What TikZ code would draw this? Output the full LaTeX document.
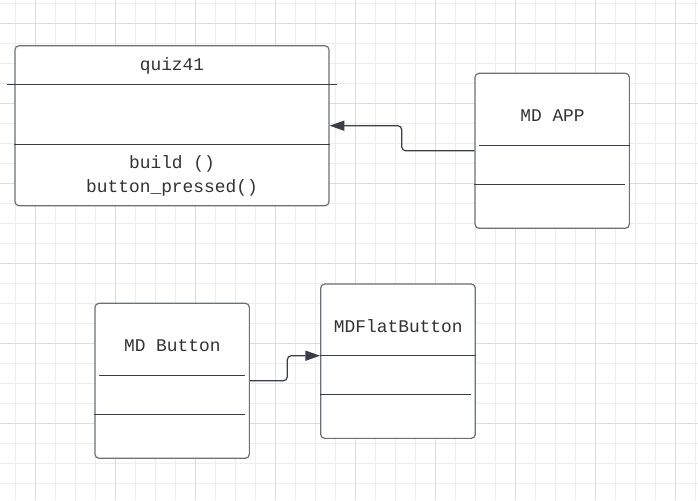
\documentclass[tikz,border=0pt]{standalone}
\usepackage{fontspec}
\setmonofont{Liberation Mono}
\usetikzlibrary{arrows.meta}
\definecolor{gridminor}{HTML}{EDEDED}
\definecolor{gridmajor}{HTML}{DCDCDC}
\definecolor{boxline}{HTML}{6B6F76}
\definecolor{sepline}{HTML}{3A3F47}
\definecolor{txt}{HTML}{333333}
\tikzset{
  classbox/.style={draw=boxline, line width=0.9pt, rounded corners=3pt, inner sep=0pt, fill=white},
  sep/.style={draw=sepline, line width=0.75pt},
  lbl/.style={font=\ttfamily\fontsize{13.4}{16}\selectfont, text=txt, inner sep=0pt},
  conn/.style={draw=sepline, line width=0.9pt, rounded corners=3pt, -{Triangle[length=11pt,width=7.5pt]}},
}
\begin{document}
\begin{tikzpicture}[x=0.75pt,y=-0.75pt]
\useasboundingbox (0,0) rectangle (698,500);
\fill[white] (0,0) rectangle (698,500);
% grid
\foreach \x in {15,35,...,695} \draw[gridminor, line width=0.75pt] (\x,0) -- (\x,500);
\foreach \y in {3,23,...,499} \draw[gridminor, line width=0.75pt] (0,\y) -- (698,\y);
\foreach \x in {35,115,...,675} \draw[gridmajor, line width=0.75pt] (\x,0) -- (\x,500);
\foreach \y in {23,103,...,499} \draw[gridmajor, line width=0.75pt] (0,\y) -- (698,\y);

% quiz41
\node[classbox, minimum width=314*0.75pt, minimum height=160*0.75pt] (quiz) at (172,125.7) {};
\draw[sep] (7,84) -- (337,84);
\draw[sep] (quiz.west |- 0,144.3) -- (quiz.east |- 0,144.3);
\node[lbl] (quizname) at (172,66) {quiz41};
\node[lbl] (build) at (172,164) {build ()};
\node[lbl] (press) at (172,188) {button\_pressed()};

% MD APP
\node[classbox, minimum width=154.3*0.75pt, minimum height=155*0.75pt] (app) at (552.2,150.8) {};
\draw[sep] (479,145.3) -- (app.east |- 0,145.3);
\draw[sep] (app.west |- 0,184.3) -- (625,184.3);
\node[lbl] (appname) at (552.5,115.3) {MD APP};

% MD Button
\node[classbox, minimum width=154.3*0.75pt, minimum height=155*0.75pt] (btn) at (172.2,380.8) {};
\draw[sep] (99,375.7) -- (245,375.7);
\draw[sep] (btn.west |- 0,414.3) -- (245,414.3);
\node[lbl] (btnname) at (172.3,346) {MD Button};

% MDFlatButton
\node[classbox, minimum width=154.6*0.75pt, minimum height=154.3*0.75pt] (flat) at (398,361.2) {};
\draw[sep] (flat.west |- 0,355.7) -- (flat.east |- 0,355.7);
\draw[sep] (flat.west |- 0,394.3) -- (470.7,394.3);
\node[lbl] (flatname) at (398.3,325.7) {MDFlatButton};
\coordinate (flatin) at (flat.west |- 0,355.7);

% connectors
\draw[conn] (app.west) -- (401.7,150.8) -- (401.7,125.7) -- (quiz.east);
\draw[conn] (btn.east) -- (287.3,380.8) -- (287.3,355.7) -- (flatin);
\end{tikzpicture}
\end{document}
